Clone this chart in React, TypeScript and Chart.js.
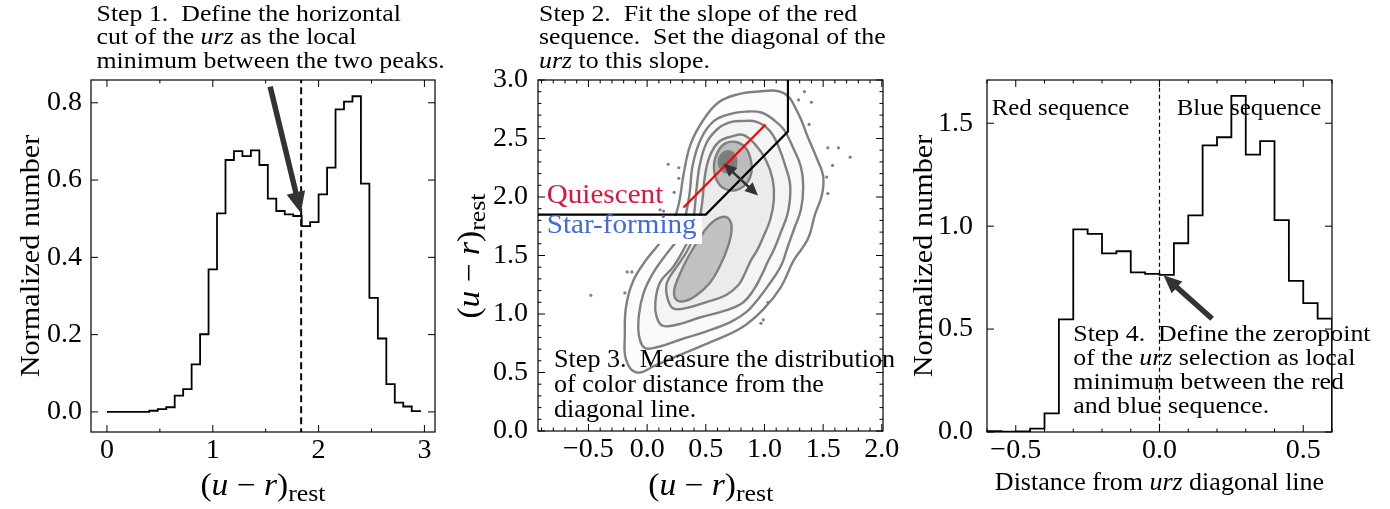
import React, { useEffect, useRef } from "react";
import { Chart, registerables } from "chart.js";

Chart.register(...registerables);

const SERIF = "'Liberation Serif', 'Times New Roman', serif";
Chart.defaults.font.family = SERIF;
const W = 1390;
const H = 509;

// ---------------- Panel 1: (u-r)rest histogram ----------------
const UR_BIN_START = 0;
const UR_BIN_WIDTH = 0.08;
const UR_HIST = [
  0, 0, 0, 0, 0, 0.003, 0.007, 0.012, 0.042, 0.059, 0.123, 0.201, 0.369, 0.514,
  0.652, 0.675, 0.662, 0.677, 0.639, 0.552, 0.52, 0.511, 0.507, 0.481, 0.491,
  0.563, 0.632, 0.783, 0.803, 0.817, 0.591, 0.295, 0.19, 0.072, 0.024, 0.014, 0.002,
];
const UR_CUT = [1.835];
const UR_X_TICKS = [0, 1, 2, 3];
const UR_Y_TICKS = [0, 0.2, 0.4, 0.6, 0.8];
const UR_ARROW = [[1.542, 0.842], [1.832, 0.515]];

// ---------------- Panel 2: urz diagram ----------------
const RZ_X_TICKS = [-0.5, 0, 0.5, 1, 1.5, 2];
const UR2_Y_TICKS = [0, 0.5, 1, 1.5, 2, 2.5, 3];
const CONTOUR_1 = [
  [0.78, 2.88], [0.92, 2.9], [1.16, 2.89], [1.28, 2.73], [1.37, 2.51], [1.45, 2.32], [1.5, 2.18],
  [1.49, 2.02], [1.43, 1.85], [1.37, 1.64], [1.25, 1.46], [1.14, 1.23], [0.99, 1.04], [0.8, 0.88],
  [0.54, 0.76], [0.28, 0.65], [0.07, 0.56], [-0.09, 0.5], [-0.18, 0.61], [-0.19, 0.82], [-0.18, 1.06],
  [-0.12, 1.28], [-0.01, 1.46], [0.11, 1.61], [0.21, 1.76], [0.27, 1.94], [0.31, 2.19], [0.37, 2.45],
  [0.48, 2.66], [0.61, 2.81],
];
const CONTOUR_2 = [
  [0.71, 2.71], [0.84, 2.73], [0.98, 2.72], [1.09, 2.65], [1.17, 2.57], [1.24, 2.43], [1.31, 2.26],
  [1.33, 2.09], [1.31, 1.89], [1.25, 1.72], [1.2, 1.58], [1.14, 1.41], [1.03, 1.24], [0.94, 1.12],
  [0.85, 1.02], [0.71, 0.93], [0.5, 0.85], [0.28, 0.78], [0.1, 0.72], [-0.02, 0.71], [-0.07, 0.82],
  [-0.07, 0.99], [-0.03, 1.18], [0.05, 1.35], [0.17, 1.52], [0.26, 1.64], [0.32, 1.81], [0.36, 2.02],
  [0.39, 2.28], [0.46, 2.5], [0.57, 2.65],
];
const CONTOUR_3 = [
  [0.71, 2.64], [0.81, 2.65], [0.94, 2.64], [1.05, 2.56], [1.12, 2.43], [1.18, 2.26], [1.22, 2.09],
  [1.2, 1.87], [1.14, 1.7], [1.08, 1.55], [1.03, 1.45], [0.97, 1.32], [0.91, 1.21], [0.82, 1.1],
  [0.67, 1.03], [0.45, 0.97], [0.26, 0.91], [0.13, 0.9], [0.08, 0.98], [0.07, 1.1], [0.11, 1.27],
  [0.22, 1.4], [0.31, 1.55], [0.37, 1.68], [0.4, 1.85], [0.42, 2.06], [0.45, 2.28], [0.51, 2.47],
  [0.61, 2.59],
];
const CONTOUR_4 = [
  [0.73, 2.52], [0.82, 2.53], [0.92, 2.45], [1.01, 2.32], [1.07, 2.15], [1.08, 1.98], [1.05, 1.81],
  [0.99, 1.66], [0.94, 1.55], [0.88, 1.45], [0.83, 1.34], [0.78, 1.25], [0.67, 1.16], [0.5, 1.1],
  [0.33, 1.05], [0.22, 1.05], [0.17, 1.15], [0.17, 1.27], [0.25, 1.4], [0.33, 1.52], [0.39, 1.64],
  [0.44, 1.78], [0.47, 1.96], [0.49, 2.16], [0.53, 2.34], [0.61, 2.47],
];
const CONTOUR_5_LOWER = [
  [0.25, 1.12], [0.23, 1.2], [0.27, 1.32], [0.34, 1.47], [0.43, 1.62], [0.52, 1.75], [0.61, 1.82],
  [0.69, 1.82], [0.72, 1.73], [0.69, 1.58], [0.62, 1.41], [0.53, 1.26], [0.42, 1.16], [0.32, 1.11],
];
const CONTOUR_5_UPPER = [
  [0.61, 2.4], [0.67, 2.46], [0.76, 2.47], [0.84, 2.42], [0.88, 2.33], [0.89, 2.22], [0.85, 2.12],
  [0.76, 2.06], [0.66, 2.07], [0.59, 2.15], [0.57, 2.28],
];
const CONTOUR_6 = [
  [0.63, 2.36], [0.68, 2.39], [0.74, 2.37], [0.76, 2.3], [0.74, 2.23], [0.68, 2.21], [0.63, 2.24],
  [0.61, 2.3],
];
const OUTLIERS = [
  [1.34, 2.9], [1.29, 2.83], [1.4, 2.81], [1.38, 2.62], [1.54, 2.42], [1.63, 2.42], [1.73, 2.34],
  [1.58, 2.27], [1.53, 2.17], [1.54, 2.03], [0.18, 2.28], [0.27, 2.25], [0.27, 2.16], [0.23, 2.04],
  [0.11, 1.89], [0.14, 1.88], [-0.17, 1.36], [-0.13, 1.36], [-0.19, 1.18], [-0.48, 1.16],
  [1.03, 1.1], [0.99, 0.95], [0.97, 0.92],
];
const SELECTION_RZ = [-1.0, 0.5, 1.2, 1.2];
const SELECTION_UR = [1.85, 1.85, 2.56, 3.2];
const RED_FIT_RZ = [0.31, 1.01];
const RED_FIT_UR = [1.91, 2.62];
const DIST_ARROW = [[0.652, 2.286], [0.945, 2.012]];

// ---------------- Panel 3: distance histogram ----------------
const DIST_BIN_START = -0.6;
const DIST_BIN_WIDTH = 0.05;
const DIST_HIST = [
  0.004, 0.002, 0.003, 0.016, 0.09, 0.547, 0.984, 0.962, 0.868, 0.878, 0.775, 0.768,
  0.763, 0.917, 1.052, 1.392, 1.432, 1.633, 1.347, 1.413, 1.029, 0.734, 0.626, 0.551,
];
const DIST_ZERO = [0];
const DIST_X_TICKS = [-0.5, 0, 0.5];
const DIST_Y_TICKS = [0, 0.5, 1, 1.5];
const ZERO_ARROW = [[0.183, 0.55], [0.014, 0.761]];

// ---------------- helpers ----------------
type XY = { x: number; y: number };
type Seg = { t: string; it?: boolean; size?: number; dy?: number };
const r4 = (v: number) => Math.round(v * 10000) / 10000;

function histSteps(start: number, width: number, vals: number[]): XY[] {
  const pts: XY[] = [{ x: r4(start), y: 0 }];
  vals.forEach((v, i) => pts.push({ x: r4(start + i * width), y: v }));
  const end = r4(start + vals.length * width);
  pts.push({ x: end, y: vals[vals.length - 1] });
  pts.push({ x: end, y: 0 });
  return pts;
}
const pairs = (p: number[][]) => p.map(([x, y]) => ({ x, y }));
const zip = (xs: number[], ys: number[]) => xs.map((x, i) => ({ x, y: ys[i] }));
const fmt = (d: number) => (v: number) => (v < 0 ? "\u2212" : "") + Math.abs(v).toFixed(d);

function axis(min: number, max: number, ticks: number[], digits: number, pad: number, fit: number, isX: boolean) {
  return {
    type: "linear",
    min,
    max,
    grid: { display: false, drawTicks: false },
    border: { display: false },
    afterBuildTicks: (s: any) => {
      s.ticks = ticks.map((v) => ({ value: v }));
    },
    afterFit: (s: any) => {
      if (isX) s.height = fit;
      else s.width = fit;
    },
    ticks: {
      font: { family: SERIF, size: 28 },
      color: "#000",
      padding: pad,
      maxRotation: 0,
      minRotation: 0,
      autoSkip: false,
      callback: (v: any) => fmt(digits)(Number(v)),
    },
  };
}

function segFont(size: number, it?: boolean) {
  return `${it ? "italic " : ""}${size}px ${SERIF}`;
}

function drawSegs(ctx: CanvasRenderingContext2D, segs: Seg[], x: number, y: number, size: number, stretch: number, align: "left" | "center", color = "#000") {
  ctx.save();
  let w = 0;
  const ws = segs.map((s) => {
    ctx.font = segFont(s.size ?? size, s.it);
    const m = ctx.measureText(s.t).width;
    w += m;
    return m;
  });
  const x0 = align === "center" ? -(w * stretch) / 2 : 0;
  ctx.translate(x + x0, y);
  ctx.scale(stretch, 1);
  ctx.fillStyle = color;
  ctx.textAlign = "left";
  ctx.textBaseline = "alphabetic";
  let cx = 0;
  segs.forEach((s, i) => {
    ctx.font = segFont(s.size ?? size, s.it);
    ctx.fillText(s.t, cx, s.dy ?? 0);
    cx += ws[i];
  });
  ctx.restore();
  return w * stretch;
}

function drawSegsRot(ctx: CanvasRenderingContext2D, segs: Seg[], bx: number, cy: number, size: number, stretch: number) {
  ctx.save();
  ctx.translate(bx, cy);
  ctx.rotate(-Math.PI / 2);
  drawSegs(ctx, segs, 0, 0, size, stretch, "center");
  ctx.restore();
}

function drawLines(ctx: CanvasRenderingContext2D, lines: Seg[][], x: number, baselines: number[], size: number, stretch: number) {
  lines.forEach((l, i) => drawSegs(ctx, l, x, baselines[i], size, stretch, "left"));
}

function arrowHead(ctx: CanvasRenderingContext2D, tx: number, ty: number, ux: number, uy: number, L: number, Wd: number) {
  const bx = tx - ux * L, by = ty - uy * L;
  ctx.beginPath();
  ctx.moveTo(tx, ty);
  ctx.lineTo(bx - uy * Wd / 2, by + ux * Wd / 2);
  ctx.lineTo(bx + uy * Wd / 2, by - ux * Wd / 2);
  ctx.closePath();
  ctx.fill();
}

function drawArrow(chart: any, from: number[], to: number[], shaft: number, headL: number, headW: number, both = false) {
  const { ctx, scales } = chart;
  const x1 = scales.x.getPixelForValue(from[0]), y1 = scales.y.getPixelForValue(from[1]);
  const x2 = scales.x.getPixelForValue(to[0]), y2 = scales.y.getPixelForValue(to[1]);
  const L = Math.hypot(x2 - x1, y2 - y1);
  const ux = (x2 - x1) / L, uy = (y2 - y1) / L;
  ctx.save();
  ctx.strokeStyle = "#333333";
  ctx.fillStyle = "#333333";
  ctx.lineWidth = shaft;
  ctx.beginPath();
  const s = both ? headL * 0.8 : 0;
  ctx.moveTo(x1 + ux * s, y1 + uy * s);
  ctx.lineTo(x2 - ux * headL * 0.8, y2 - uy * headL * 0.8);
  ctx.stroke();
  arrowHead(ctx, x2, y2, ux, uy, headL, headW);
  if (both) arrowHead(ctx, x1, y1, -ux, -uy, headL, headW);
  ctx.restore();
}

function decor(opts: { xMinor?: number; yMinor?: number; above?: (c: any) => void; after?: (c: any) => void }) {
  return {
    id: "decor",
    afterDatasetsUpdate(chart: any) {
      chart.data.datasets.forEach((ds: any, i: number) => {
        if (!ds.closedLoop) return;
        const el = chart.getDatasetMeta(i).dataset;
        if (!el) return;
        el._loop = true;
        el._fullLoop = true;
        delete el._segments;
        delete el._path;
        el._pointsUpdated = false;
      });
    },
    afterDatasetsDraw(chart: any) {
      if (opts.above) opts.above(chart);
    },
    afterDraw(chart: any) {
      const { ctx, chartArea: a, scales } = chart;
      const xs = scales.x, ys = scales.y;
      ctx.save();
      ctx.strokeStyle = "#000";
      ctx.lineWidth = 1;
      const MAJ = 7, MIN = 3.5;
      const seg = (x1: number, y1: number, x2: number, y2: number) => {
        ctx.beginPath();
        ctx.moveTo(x1, y1);
        ctx.lineTo(x2, y2);
        ctx.stroke();
      };
      const xt = (v: number, len: number) => {
        const p = xs.getPixelForValue(v);
        seg(p, a.bottom, p, a.bottom - len);
        seg(p, a.top, p, a.top + len);
      };
      const yt = (v: number, len: number) => {
        const p = ys.getPixelForValue(v);
        seg(a.left, p, a.left + len, p);
        seg(a.right, p, a.right - len, p);
      };
      const majX = xs.ticks.map((t: any) => t.value);
      const majY = ys.ticks.map((t: any) => t.value);
      majX.forEach((v: number) => xt(v, MAJ));
      majY.forEach((v: number) => yt(v, MAJ));
      const minors = (step: number | undefined, min: number, max: number, maj: number[], f: (v: number, l: number) => void) => {
        if (!step) return;
        for (let k = Math.ceil(min / step - 1e-9); k <= Math.floor(max / step + 1e-9); k++) {
          const v = k * step;
          if (maj.some((m) => Math.abs(m - v) < step / 100)) continue;
          f(v, MIN);
        }
      };
      minors(opts.xMinor, xs.min, xs.max, majX, xt);
      minors(opts.yMinor, ys.min, ys.max, majY, yt);
      ctx.lineWidth = 1.2;
      ctx.strokeRect(a.left, a.top, a.right - a.left, a.bottom - a.top);
      ctx.restore();
      if (opts.after) opts.after(chart);
    },
  };
}

const baseOptions = (padding: any) => ({
  animation: false,
  responsive: false,
  events: [],
  layout: { padding },
  plugins: { legend: { display: false }, tooltip: { enabled: false } },
  elements: { point: { radius: 0 } },
});

const UR_LABEL: Seg[] = [
  { t: "(" }, { t: "u", it: true }, { t: " \u2212 " }, { t: "r", it: true }, { t: ")" }, { t: "rest", size: 24, dy: 6 },
];
const NORM_LABEL: Seg[] = [{ t: "Normalized number" }];

// ---------------- configs ----------------
function urHistConfig(): any {
  return {
    type: "line",
    data: {
      datasets: [
        { data: histSteps(UR_BIN_START, UR_BIN_WIDTH, UR_HIST), stepped: "before", borderColor: "#000", borderWidth: 1.8, pointRadius: 0, fill: false },
        { data: [{ x: UR_CUT[0], y: -1 }, { x: UR_CUT[0], y: 2 }], borderColor: "#000", borderWidth: 2, borderDash: [7, 4], pointRadius: 0, fill: false },
      ],
    },
    options: {
      ...baseOptions({ left: 31, right: 955, top: 80, bottom: 37 }),
      scales: {
        x: axis(-0.151, 3.1, UR_X_TICKS, 0, 2, 40, true),
        y: axis(-0.052, 0.859, UR_Y_TICKS, 1, 9, 60, false),
      },
    },
    plugins: [
      decor({
        xMinor: 0.5,
        above: (c) => drawArrow(c, UR_ARROW[0], UR_ARROW[1], 5.5, 21, 19),
        after: (c) => {
          const ctx = c.ctx;
          drawLines(ctx, [
            [{ t: "Step 1.  Define the horizontal" }],
            [{ t: "cut of the " }, { t: "urz", it: true }, { t: " as the local" }],
            [{ t: "minimum between the two peaks." }],
          ], 96.5, [20.5, 44.2, 67.8], 23.5, 1.1);
          drawSegs(ctx, UR_LABEL, 263, 495, 31, 1.08, "center");
          drawSegsRot(ctx, NORM_LABEL, 39, 256, 28, 1.08);
        },
      }),
    ],
  };
}

function urzConfig(): any {
  const contour = (pts: number[][], alpha: number) => ({
    data: pairs(pts),
    closedLoop: true,
    tension: 0.4,
    borderColor: "#808080",
    borderWidth: 2.4,
    backgroundColor: `rgba(0,0,0,${alpha})`,
    fill: "shape",
    pointRadius: 0,
  });
  return {
    type: "line",
    data: {
      datasets: [
        { data: zip(RED_FIT_RZ, RED_FIT_UR), borderColor: "#ff0000", borderWidth: 2.2, pointRadius: 0, fill: false },
        { data: zip(SELECTION_RZ, SELECTION_UR), borderColor: "#000", borderWidth: 2.2, pointRadius: 0, fill: false },
        contour(CONTOUR_6, 0.35),
        contour(CONTOUR_5_UPPER, 0.2),
        contour(CONTOUR_5_LOWER, 0.18),
        contour(CONTOUR_4, 0.04),
        contour(CONTOUR_3, 0.025),
        contour(CONTOUR_2, 0.015),
        contour(CONTOUR_1, 0.01),
        { data: pairs(OUTLIERS), showLine: false, pointRadius: 1.6, pointBackgroundColor: "#808080", pointBorderWidth: 0, fill: false },
      ],
    },
    options: {
      ...baseOptions({ left: 478, right: 507, top: 80, bottom: 38 }),
      scales: {
        x: axis(-0.93, 2.01, RZ_X_TICKS, 1, 2, 40, true),
        y: axis(0, 3, UR2_Y_TICKS, 1, 10, 60, false),
      },
    },
    plugins: [
      decor({
        xMinor: 0.1,
        yMinor: 0.1,
        above: (c) => {
          const ctx = c.ctx;
          drawArrow(c, DIST_ARROW[0], DIST_ARROW[1], 2.5, 13, 12, true);
          drawSegs(ctx, [{ t: "Quiescent" }], 546.7, 203.3, 27.5, 1.06, "left", "#dc143c");
          ctx.save();
          ctx.fillStyle = "#fff";
          ctx.fillRect(544, 216, 158, 28);
          ctx.restore();
          drawSegs(ctx, [{ t: "Star-forming" }], 546.7, 233.3, 27.5, 1.06, "left", "#4169e1");
          drawLines(ctx, [
            [{ t: "Step 3.  Measure the distribution" }],
            [{ t: "of color distance from the" }],
            [{ t: "diagonal line." }],
          ], 554, [366.5, 391.5, 416.5], 25, 1.045);
        },
        after: (c) => {
          const ctx = c.ctx;
          drawLines(ctx, [
            [{ t: "Step 2.  Fit the slope of the red" }],
            [{ t: "sequence.  Set the diagonal of the" }],
            [{ t: "urz", it: true }, { t: " to this slope." }],
          ], 539, [20.5, 44.2, 68], 23.5, 1.1);
          drawSegs(ctx, UR_LABEL, 710.8, 495, 31, 1.08, "center");
          drawSegsRot(ctx, UR_LABEL, 479, 256, 31, 1.08);
        },
      }),
    ],
  };
}

function distConfig(): any {
  return {
    type: "line",
    data: {
      datasets: [
        { data: histSteps(DIST_BIN_START, DIST_BIN_WIDTH, DIST_HIST), stepped: "before", borderColor: "#000", borderWidth: 1.8, pointRadius: 0, fill: false },
        { data: [{ x: DIST_ZERO[0], y: -1 }, { x: DIST_ZERO[0], y: 3 }], borderColor: "#000", borderWidth: 1.2, borderDash: [4, 3], pointRadius: 0, fill: false },
      ],
    },
    options: {
      ...baseOptions({ left: 927, right: 58, top: 80, bottom: 37 }),
      scales: {
        x: axis(-0.6, 0.6, DIST_X_TICKS, 1, 2, 40, true),
        y: axis(0, 1.71, DIST_Y_TICKS, 1, 14, 60, false),
      },
    },
    plugins: [
      decor({
        xMinor: 0.1,
        above: (c) => drawArrow(c, ZERO_ARROW[0], ZERO_ARROW[1], 5.5, 18, 16),
        after: (c) => {
          const ctx = c.ctx;
          drawSegs(ctx, [{ t: "Red sequence" }], 991.7, 115, 23.5, 1.06, "left");
          drawSegs(ctx, [{ t: "Blue sequence" }], 1176.7, 115, 23.5, 1.06, "left");
          drawLines(ctx, [
            [{ t: "Step 4.  Define the zeropoint" }],
            [{ t: "of the " }, { t: "urz", it: true }, { t: " selection as local" }],
            [{ t: "minimum between the red" }],
            [{ t: "and blue sequence." }],
          ], 1073.3, [341, 365, 389, 413], 23.5, 1.1);
          drawSegs(ctx, [{ t: "Distance from " }, { t: "urz", it: true }, { t: " diagonal line" }], 1159.5, 490, 25, 1.04, "center");
          drawSegsRot(ctx, NORM_LABEL, 932, 256, 28, 1.08);
        },
      }),
    ],
  };
}

function ChartCanvas({ make }: { make: () => any }) {
  const ref = useRef<HTMLCanvasElement | null>(null);
  useEffect(() => {
    if (!ref.current) return;
    const chart = new Chart(ref.current, make());
    return () => chart.destroy();
  }, [make]);
  return <canvas ref={ref} width={W} height={H} style={{ position: "absolute", left: 0, top: 0 }} />;
}

export default function App() {
  return (
    <div style={{ position: "absolute", left: 0, top: 0, width: W, height: H, background: "#fff", overflow: "hidden" }}>
      <ChartCanvas make={urHistConfig} />
      <ChartCanvas make={urzConfig} />
      <ChartCanvas make={distConfig} />
    </div>
  );
}
